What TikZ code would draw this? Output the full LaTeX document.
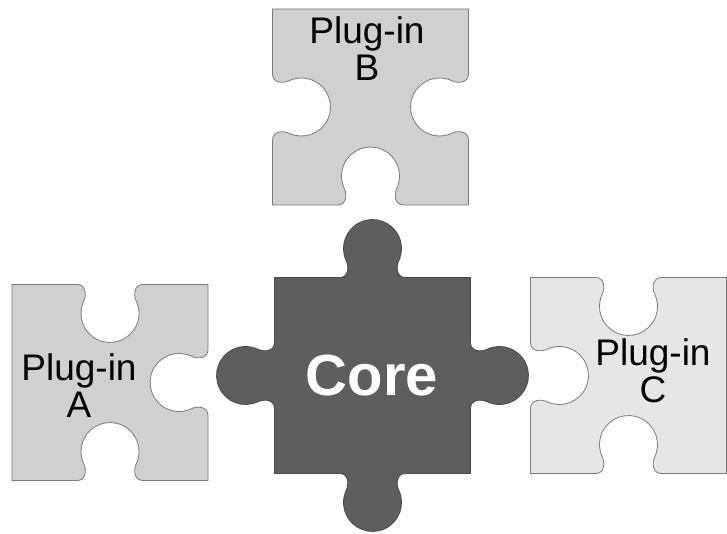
\documentclass[tikz,border=0pt]{standalone}
\usepackage{fontspec}
\setmainfont{Liberation Sans}
\begin{document}
% Outline of the core piece: four knobs, centred on the origin, side 196
\newcommand\corepath{
  (-98,98) -- (-33,98) .. controls (-24,98) and (-23.3,108.4) .. (-26.3,114.7)
  arc[start angle=205, end angle=-25, radius=29]
  .. controls (23.3,108.4) and (24,98) .. (33,98) -- (98,98)
  -- (98,33) .. controls (98,24) and (108.4,23.3) .. (114.7,26.3)
  arc[start angle=115, end angle=-115, radius=29]
  .. controls (108.4,-23.3) and (98,-24) .. (98,-33) -- (98,-98)
  -- (33,-98) .. controls (24,-98) and (23.3,-108.4) .. (26.3,-114.7)
  arc[start angle=25, end angle=-205, radius=29]
  .. controls (-23.3,-108.4) and (-24,-98) .. (-33,-98) -- (-98,-98)
  -- (-98,-33) .. controls (-98,-24) and (-108.4,-23.3) .. (-114.7,-26.3)
  arc[start angle=295, end angle=65, radius=29]
  .. controls (-108.4,23.3) and (-98,24) .. (-98,33) -- cycle}
% Outline of a plug-in piece: flat left side, sockets on the other three
\newcommand\plugpath{
  (-98,98) -- (-33,98) .. controls (-24,98) and (-23.3,87.6) .. (-26.3,81.3)
  arc[start angle=155, end angle=385, radius=29]
  .. controls (23.3,87.6) and (24,98) .. (33,98) -- (98,98)
  -- (98,33) .. controls (98,24) and (87.6,23.3) .. (81.3,26.3)
  arc[start angle=65, end angle=295, radius=29]
  .. controls (87.6,-23.3) and (98,-24) .. (98,-33) -- (98,-98)
  -- (33,-98) .. controls (24,-98) and (23.3,-87.6) .. (26.3,-81.3)
  arc[start angle=-25, end angle=205, radius=29]
  .. controls (-23.3,-87.6) and (-24,-98) .. (-33,-98) -- (-98,-98)
  -- cycle}
\definecolor{coregray}{HTML}{5E5E5E}
\definecolor{coreline}{HTML}{4A4A4A}
\definecolor{pluggray}{HTML}{D0D0D0}
\definecolor{pluglight}{HTML}{E6E6E6}
\definecolor{plugline}{HTML}{7A7A7A}
\begin{tikzpicture}[x=1pt,y=1pt,
  corepiece/.style={fill=coregray, draw=coreline, line width=0.8pt},
  plugpiece/.style={fill=pluggray, draw=plugline, line width=0.8pt},
  pluglabel/.style={align=center, text=black,
    font=\fontsize{37}{37}\selectfont, inner sep=0pt},
  corelabel/.style={text=white, font=\fontsize{58}{58}\selectfont\bfseries,
    inner sep=0pt}]
  \useasboundingbox (0,0) rectangle (727,533);
  \fill[white] (0,0) rectangle (727,533);

  % pieces
  \begin{scope}[shift={(110,150.5)}]
    \path[plugpiece] \plugpath;
  \end{scope}
  \begin{scope}[shift={(370.5,426)}, rotate=-90]
    \path[plugpiece] \plugpath;
  \end{scope}
  \begin{scope}[shift={(628.5,157.5)}, rotate=180]
    \path[plugpiece, fill=pluglight] \plugpath;
  \end{scope}
  \begin{scope}[shift={(372.5,157.5)}]
    \path[corepiece] \corepath;
  \end{scope}

  % labels
  \node[pluglabel] (labelA) at (79,147) {Plug-in\\A};
  \node[pluglabel] (labelB) at (367,484) {Plug-in\\B};
  \node[pluglabel] (labelC) at (653,162) {Plug-in\\C};
  \node[corelabel] (labelCore) at (372,157) {Core};
\end{tikzpicture}
\end{document}
